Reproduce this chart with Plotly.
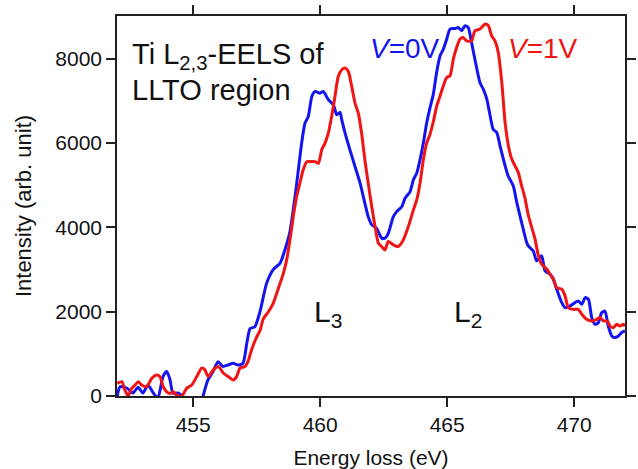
import plotly.graph_objects as go

# Energy loss (eV) and intensity (arb. unit) for V = 0 V (blue)
energy_0v = [452.01, 452.12, 452.38, 452.63, 452.83, 453.02, 453.22, 453.42, 453.61, 453.81,
             453.96, 454.09, 454.20, 454.40, 454.56, 454.76, 455.07, 455.27, 455.39, 455.58,
             455.78, 455.98, 456.17, 456.37, 456.57, 456.76, 456.96, 457.11, 457.24, 457.43,
             457.63, 457.89, 458.15, 458.42, 458.61, 458.81, 459.01, 459.14, 459.27, 459.40,
             459.53, 459.67, 459.80, 459.99, 460.12, 460.32, 460.52, 460.65, 460.78, 460.85,
             460.98, 461.17, 461.37, 461.57, 461.76, 461.89, 462.03, 462.22, 462.42, 462.55,
             462.68, 462.88, 463.01, 463.21, 463.34, 463.54, 463.67, 463.80, 463.93, 464.06,
             464.19, 464.32, 464.45, 464.59, 464.72, 464.85, 464.98, 465.11, 465.31, 465.44,
             465.57, 465.70, 465.83, 465.96, 466.09, 466.29, 466.42, 466.56, 466.69, 466.81,
             466.95, 467.08, 467.21, 467.40, 467.60, 467.74, 467.93, 468.13, 468.19, 468.39,
             468.52, 468.72, 468.85, 469.05, 469.18, 469.31, 469.51, 469.64, 469.83, 470.03,
             470.16, 470.30, 470.43, 470.56, 470.69, 470.82, 470.95, 471.08, 471.21, 471.34,
             471.48, 471.61, 471.74, 471.87, 472.00]
intensity_0v = [0, 220, 190, 70, 210, 70, 260, 80, -50, 460,
                580, 380, 70, 70, 0, -400, -600, -300, 0, 380,
                580, 815, 700, 735, 775, 735, 775, 1250, 1600, 1645,
                2000, 2675, 3000, 3150, 3465, 3900, 4730, 5365, 6000, 6470,
                6630, 7105, 7225, 7185, 7225, 7030, 6910, 6670, 6730, 6550,
                6235, 5840, 5445, 5050, 4570, 4255, 4060, 3980, 3745, 3745,
                3860, 4255, 4375, 4490, 4690, 4850, 5130, 5285, 5600, 6000,
                6470, 6830, 7150, 7700, 8070, 8230, 8465, 8705, 8720, 8740,
                8665, 8785, 8740, 8385, 7990, 7435, 7280, 7045, 6650, 6330,
                6250, 5935, 5620, 5220, 4985, 4590, 4115, 3640, 3560, 3440,
                3205, 3325, 2970, 2890, 2770, 2535, 2215, 2095, 2135, 2215,
                2255, 2175, 2335, 2295, 1860, 1700, 1740, 1975, 2015, 1660,
                1425, 1385, 1425, 1505, 1545]

# Energy loss (eV) and intensity (arb. unit) for V = 1 V (red)
energy_1v = [452.01, 452.19, 452.31, 452.44, 452.58, 452.71, 452.84, 452.97, 453.17, 453.37,
             453.56, 453.69, 453.82, 453.96, 454.09, 454.22, 454.35, 454.55, 454.74, 454.94,
             455.14, 455.33, 455.46, 455.59, 455.79, 455.99, 456.19, 456.38, 456.58, 456.71,
             456.84, 457.04, 457.17, 457.30, 457.50, 457.63, 457.76, 457.96, 458.15, 458.35,
             458.55, 458.68, 458.81, 458.94, 459.07, 459.20, 459.33, 459.47, 459.60, 459.80,
             459.93, 460.06, 460.19, 460.32, 460.45, 460.58, 460.71, 460.85, 460.98, 461.11,
             461.24, 461.37, 461.50, 461.63, 461.76, 461.89, 462.03, 462.16, 462.29, 462.42,
             462.55, 462.68, 462.88, 463.07, 463.27, 463.47, 463.67, 463.80, 463.93, 464.06,
             464.19, 464.32, 464.45, 464.59, 464.72, 464.85, 464.98, 465.11, 465.24, 465.37,
             465.50, 465.63, 465.76, 465.96, 466.09, 466.29, 466.49, 466.62, 466.75, 466.88,
             467.01, 467.15, 467.28, 467.41, 467.54, 467.67, 467.80, 467.93, 468.06, 468.19,
             468.33, 468.46, 468.59, 468.72, 468.92, 469.05, 469.18, 469.31, 469.51, 469.64,
             469.77, 469.96, 470.16, 470.30, 470.49, 470.69, 470.89, 471.02, 471.15, 471.30,
             471.41, 471.54, 471.67, 471.80, 471.93, 472.00]
intensity_1v = [300, 340, 140, 0, 180, 260, 340, 260, 220, 420,
                500, 460, 220, 100, 60, 100, 20, 0, 180, 260,
                460, 660, 620, 460, 620, 700, 540, 460, 380, 460,
                660, 700, 840, 1100, 1400, 1550, 1830, 2000, 2200, 2550,
                2910, 3230, 3700, 4255, 4730, 5050, 5365, 5560, 5560, 5560,
                5520, 5840, 6000, 6235, 6630, 7100, 7580, 7740, 7780, 7700,
                7345, 6950, 6710, 6235, 5600, 5050, 4490, 4020, 3625, 3545,
                3465, 3665, 3585, 3545, 3700, 4020, 4415, 4650, 5050, 5600,
                6000, 6200, 6500, 6885, 7120, 7360, 7555, 7595, 7990, 8270,
                8465, 8505, 8425, 8425, 8665, 8705, 8825, 8785, 8545, 8425,
                8150, 7435, 6485, 5935, 5620, 5460, 5300, 4985, 4700, 4300,
                3995, 3720, 3325, 3125, 3005, 2890, 2770, 2570, 2535, 2375,
                2095, 2055, 2055, 1940, 1820, 1780, 1820, 1860, 1780, 1780,
                1660, 1620, 1700, 1660, 1700, 1660]

x_ticks = [455, 460, 465, 470]
y_ticks = [0, 2000, 4000, 6000, 8000]

FONT = "Liberation Sans, Arial, sans-serif"
BLUE = "#1414f0"
RED = "#f01414"

fig = go.Figure()
fig.add_trace(go.Scatter(x=energy_0v, y=intensity_0v, mode="lines",
                         line=dict(color=BLUE, width=3, shape="spline", smoothing=0.6),
                         name="V=0V"))
fig.add_trace(go.Scatter(x=energy_1v, y=intensity_1v, mode="lines",
                         line=dict(color=RED, width=3, shape="spline", smoothing=0.6),
                         name="V=1V"))

axis_common = dict(showline=True, linecolor="#222", linewidth=1.5, mirror="allticks",
                   ticks="outside", ticklen=9, tickwidth=1.5, tickcolor="#222",
                   showgrid=False, zeroline=False, automargin=False,
                   tickfont=dict(family=FONT, size=21, color="#111"))

fig.update_layout(
    template="none",
    width=638, height=469,
    margin=dict(l=117, r=13, t=16, b=73, pad=0),
    paper_bgcolor="white", plot_bgcolor="white",
    showlegend=False,
    font=dict(family=FONT, color="#111"),
    xaxis=dict(range=[452, 472], tickvals=x_ticks,
               title=dict(text="Energy loss (eV)", font=dict(family=FONT, size=21)),
               **axis_common),
    yaxis=dict(range=[0, 9015], tickvals=y_ticks,
               title=dict(text="Intensity (arb. unit)", font=dict(family=FONT, size=22), standoff=18),
               **axis_common),
)

ann = [
    dict(text="Ti L<sub>2,3</sub>-EELS of", x=0.026, y=0.948, size=29, color="#111"),
    dict(text="LLTO region", x=0.026, y=0.852, size=29, color="#111"),
    dict(text="<i>V</i>=0V", x=0.494, y=0.961, size=28, color=BLUE),
    dict(text="<i>V</i>=1V", x=0.765, y=0.961, size=28, color=RED),
    dict(text="L<sub>3</sub>", x=0.383, y=0.27, size=30, color="#111"),
    dict(text="L<sub>2</sub>", x=0.659, y=0.27, size=30, color="#111"),
]
for a in ann:
    fig.add_annotation(text=a["text"], x=a["x"], y=a["y"], xref="paper", yref="paper",
                       xanchor="left", yanchor="top", showarrow=False,
                       font=dict(family=FONT, size=a["size"], color=a["color"]))

fig.write_html("out.html", config={"displayModeBar": False},
               post_script="document.body.style.margin='0px';")
